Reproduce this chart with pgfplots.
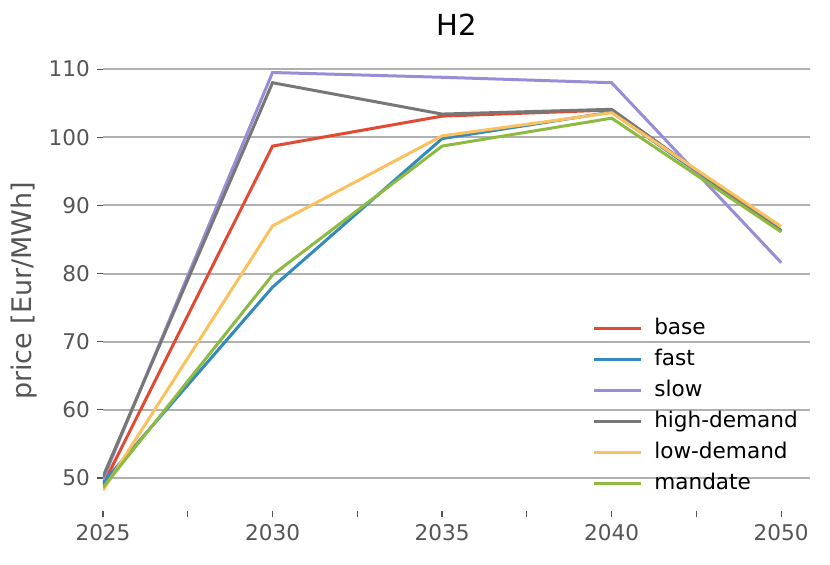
\documentclass[border=0pt]{standalone}
\usepackage{fontspec}
\setmainfont{DejaVu Sans}
\usepackage{pgfplots}
\pgfplotsset{compat=1.18}
\definecolor{cbase}{HTML}{E24A33}
\definecolor{cfast}{HTML}{348ABD}
\definecolor{cslow}{HTML}{988ED5}
\definecolor{chigh}{HTML}{777777}
\definecolor{clow}{HTML}{FBC15E}
\definecolor{cmand}{HTML}{8EBA42}
\definecolor{tickgray}{HTML}{555555}
\definecolor{gridgray}{HTML}{B0B0B0}
\begin{document}
\begin{tikzpicture}
\begin{axis}[
  at={(0,0)}, anchor=south west,
  scale only axis,
  width=353.5pt, height=230pt,
  xmin=0, xmax=4.17,
  ymin=45.2, ymax=112.7,
  xtick={0,1,2,3,4},
  xticklabels={2025,2030,2035,2040,2050},
  minor xtick={0.5,1.5,2.5,3.5},
  ytick={50,60,70,80,90,100,110},
  axis line style={draw=none},
  tick align=outside,
  major tick length=3pt, minor tick length=3pt,
  tick style={tickgray, line width=0.6pt},
  xtick pos=bottom, ytick pos=left,
  ymajorgrids, grid style={gridgray, line width=1pt},
  /pgf/number format/assume math mode=true,
  ticklabel style={font=\fontsize{10.8}{13}\selectfont, text=tickgray},
  xticklabel style={yshift=-0.5pt},
  title={H2},
  title style={font=\fontsize{14.5}{17}\selectfont, at={(axis description cs:0.5,1)}, anchor=center, yshift=7pt},
  ylabel={price [Eur/MWh]},
  ylabel style={font=\fontsize{13.5}{16}\selectfont, text=tickgray, at={(axis description cs:-0.112,0.478)}, anchor=center},
  legend style={at={(axis description cs:0.683,0.4275)}, anchor=north west, draw=none, fill=none,
    font=\fontsize{10.8}{13}\selectfont,
    nodes={inner sep=0pt, text height=8pt, text depth=2pt},
    row sep=5.5pt, column sep=6pt},
  legend cell align=left,
  legend image code/.code={\draw[#1, line width=1.5pt] (0pt,0pt) -- (23.5pt,0pt);},
  every axis plot/.append style={line width=1.5pt},
]
\addplot[cbase] coordinates {(0,49.0) (1,98.7) (2,103.1) (3,104.0) (4,86.3)};
\addlegendentry{base}
\addplot[cfast] coordinates {(0,49.3) (1,78.0) (2,99.8) (3,103.7) (4,86.3)};
\addlegendentry{fast}
\addplot[cslow] coordinates {(0,49.8) (1,109.5) (2,108.8) (3,108.0) (4,81.6)};
\addlegendentry{slow}
\addplot[chigh] coordinates {(0,50.2) (1,108.0) (2,103.4) (3,104.1) (4,86.2)};
\addlegendentry{high-demand}
\addplot[clow] coordinates {(0,48.2) (1,87.0) (2,100.2) (3,103.6) (4,86.9)};
\addlegendentry{low-demand}
\addplot[cmand] coordinates {(0,48.6) (1,79.8) (2,98.7) (3,102.8) (4,86.1)};
\addlegendentry{mandate}
\end{axis}
\pgfresetboundingbox
\path (-51.5pt,-26.65pt) rectangle (363.5pt,255.35pt);
\end{tikzpicture}
\end{document}
